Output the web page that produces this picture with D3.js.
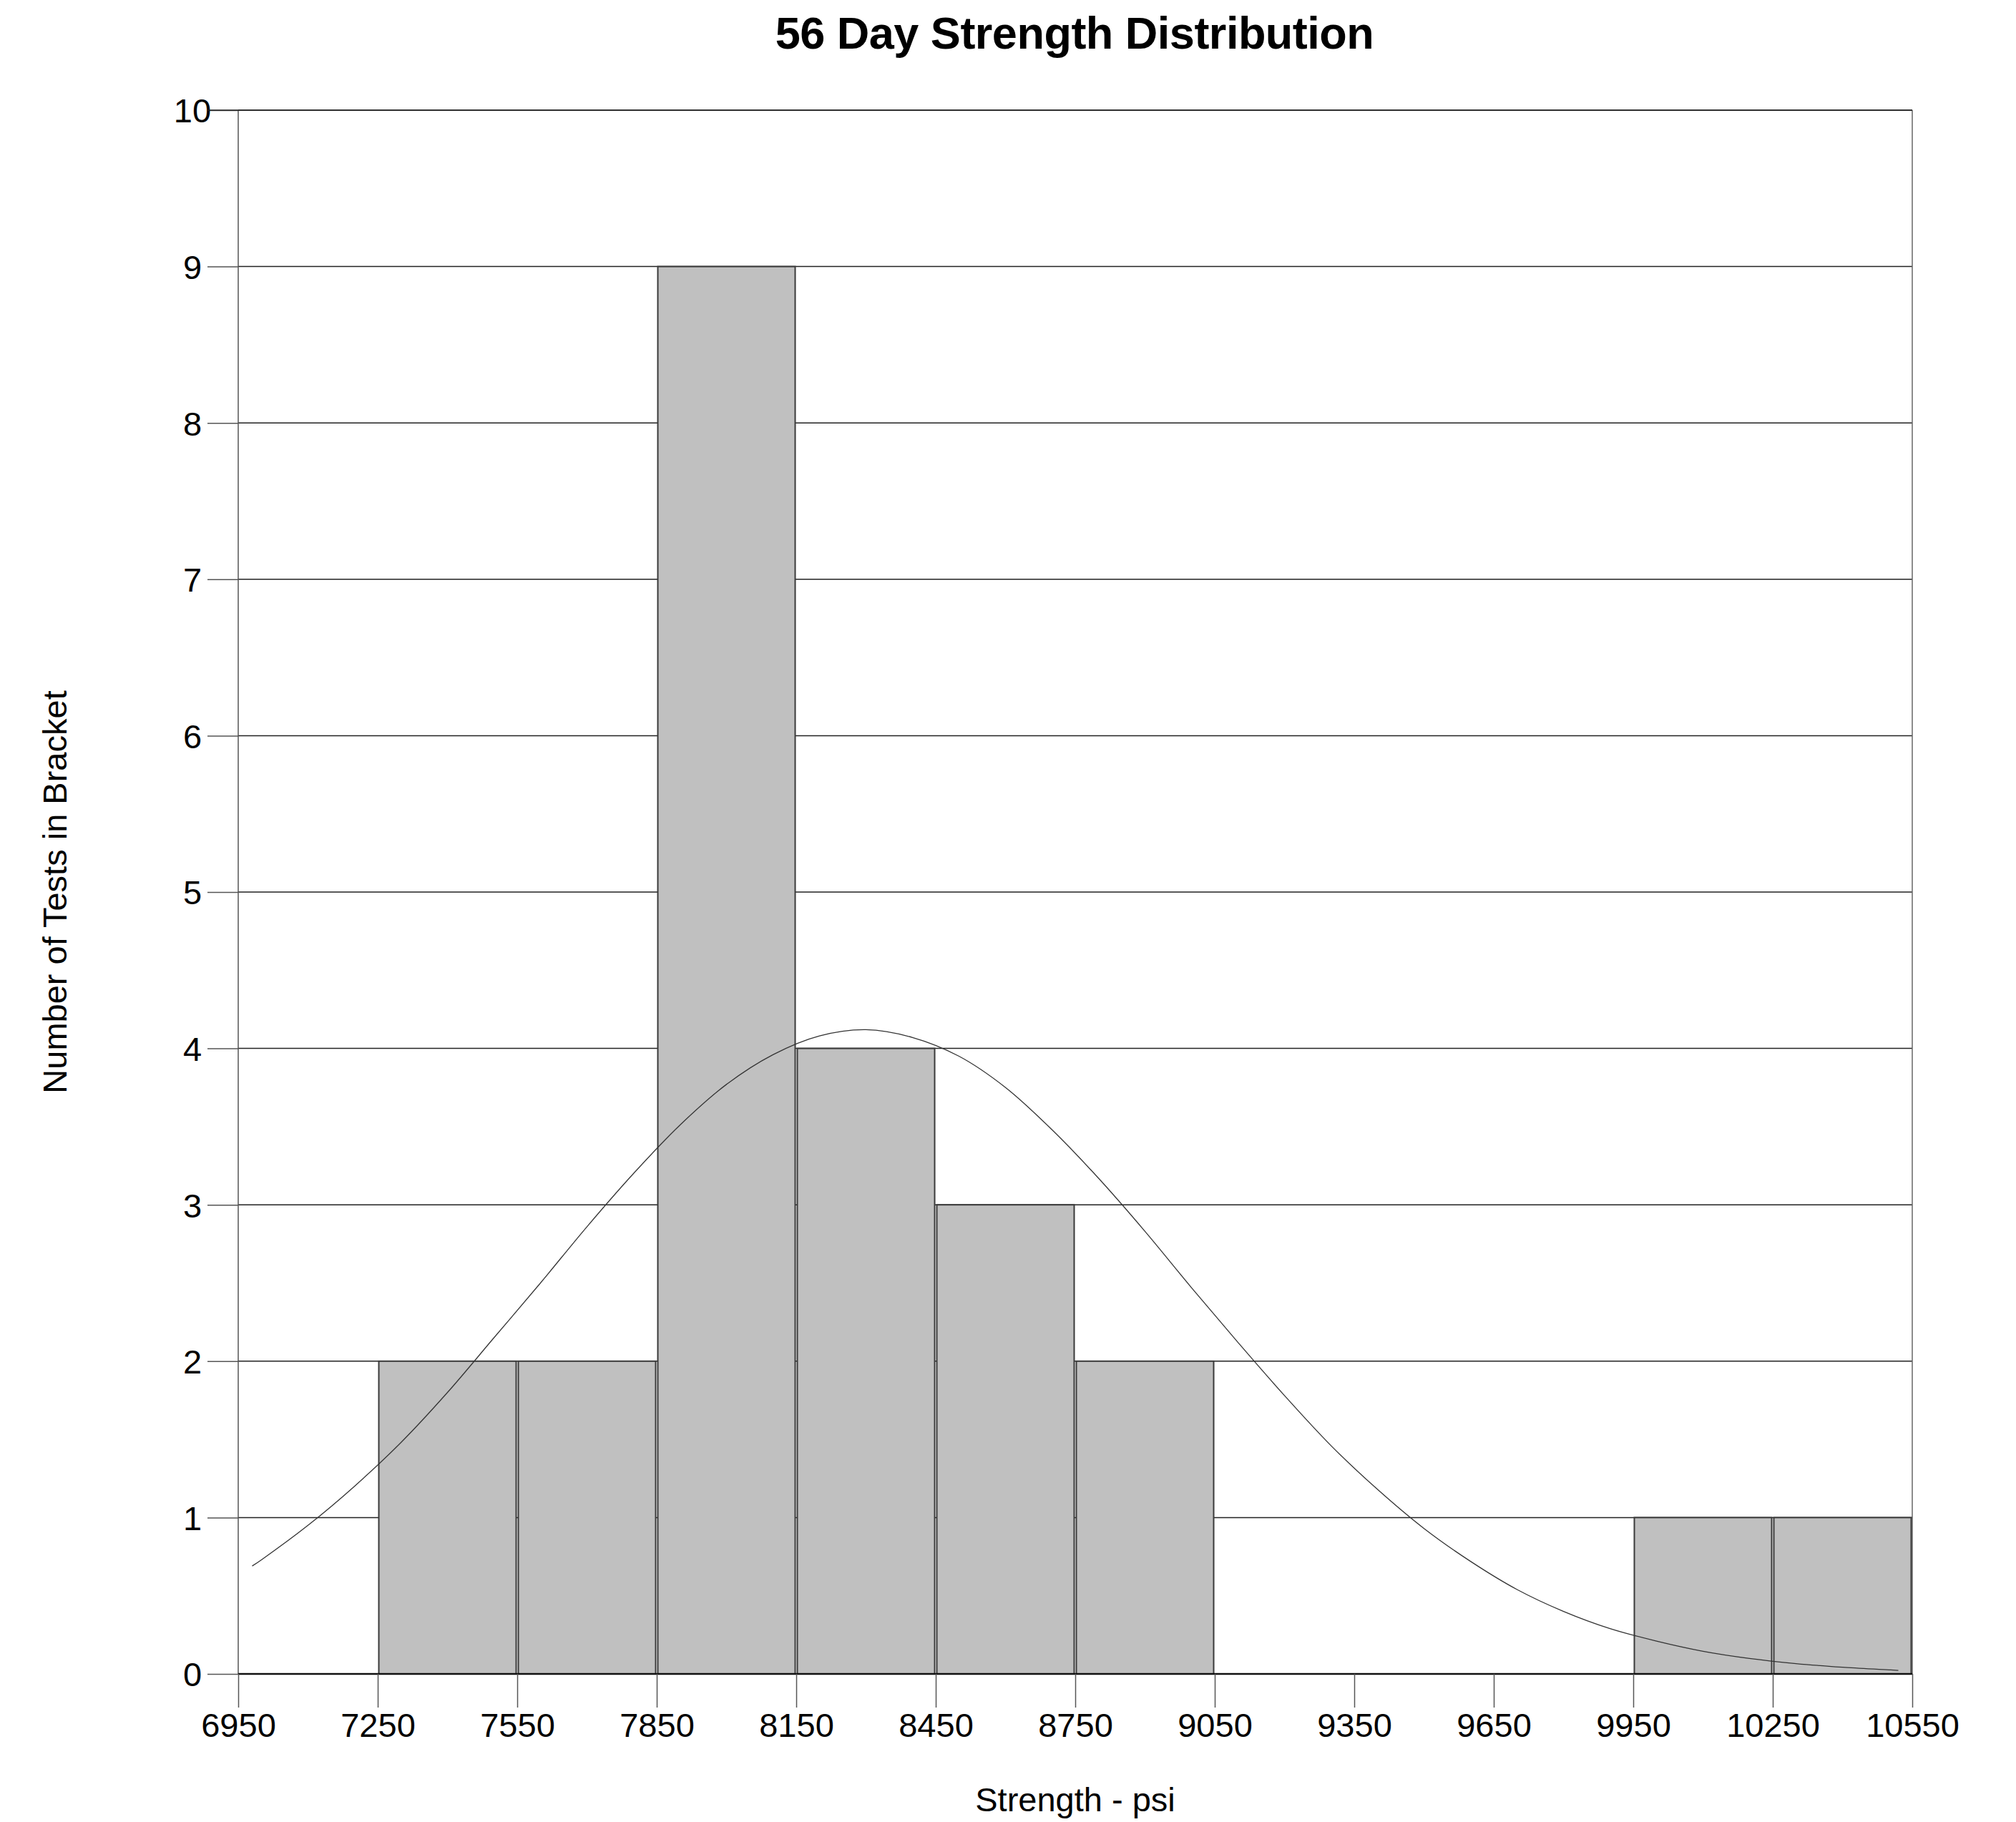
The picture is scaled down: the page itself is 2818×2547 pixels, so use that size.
<!DOCTYPE html>
<html>
<head>
<meta charset="utf-8">
<script src="https://cdn.jsdelivr.net/npm/d3@7"></script>
<style>
  html, body { margin: 0; padding: 0; background: #ffffff; }
  svg { display: block; }
  text { font-family: "Liberation Sans", Arial, sans-serif; fill: #000; }
</style>
</head>
<body>
<script>
// ---- data ----
const title = "56 Day Strength Distribution";
const xLabel = "Strength - psi";
const yLabel = "Number of Tests in Bracket";

const binLower = [7250, 7550, 7850, 8150, 8450, 8750, 9950, 10250];
const binUpper = [7550, 7850, 8150, 8450, 8750, 9050, 10250, 10550];
const binCounts = [2, 2, 9, 4, 3, 2, 1, 1];

const xTicks = [6950, 7250, 7550, 7850, 8150, 8450, 8750, 9050, 9350, 9650, 9950, 10250, 10550];
const yTicks = [0, 1, 2, 3, 4, 5, 6, 7, 8, 9, 10];

// fitted-curve points
const curveX = [6980, 7000, 7100, 7200, 7300, 7400, 7500, 7600, 7700, 7800, 7900, 8000, 8100, 8200, 8300,
                8400, 8500, 8600, 8700, 8800, 8900, 9000, 9100, 9200, 9300, 9400, 9500, 9600, 9700, 9800,
                9900, 10000, 10100, 10200, 10300, 10400, 10500, 10520];
const curveY = [0.69, 0.73, 0.95, 1.20, 1.48, 1.80, 2.15, 2.50, 2.86, 3.20, 3.51, 3.77, 3.96, 4.08, 4.12,
                4.07, 3.95, 3.75, 3.48, 3.17, 2.83, 2.47, 2.12, 1.78, 1.46, 1.18, 0.93, 0.72, 0.54, 0.40,
                0.29, 0.21, 0.145, 0.099, 0.066, 0.043, 0.026, 0.022];

// ---- layout ----
const W = 2818, H = 2547;
const plot = { left: 333, right: 2673, top: 154, bottom: 2340 };

const svg = d3.select("body").append("svg").attr("width", W).attr("height", H);

const x = d3.scaleLinear().domain([6950, 10550]).range([plot.left, plot.right]);
const y = d3.scaleLinear().domain([0, 10]).range([plot.bottom, plot.top]);

// gridlines
svg.append("g").selectAll("line").data(yTicks.filter(d => d > 0)).join("line")
  .attr("x1", plot.left).attr("x2", plot.right)
  .attr("y1", d => y(d)).attr("y2", d => y(d))
  .attr("stroke", "#222").attr("stroke-width", 1.5);

// frame left/right
svg.append("line").attr("x1", plot.left).attr("x2", plot.left).attr("y1", plot.top).attr("y2", plot.bottom)
  .attr("stroke", "#555").attr("stroke-width", 1.5);
svg.append("line").attr("x1", plot.right).attr("x2", plot.right).attr("y1", plot.top).attr("y2", plot.bottom)
  .attr("stroke", "#666").attr("stroke-width", 1.5);

// bars
const bins = binLower.map((lo, i) => ({ lo, hi: binUpper[i], n: binCounts[i] }));
svg.append("g").selectAll("rect").data(bins).join("rect")
  .attr("x", d => x(d.lo) + 1.5)
  .attr("width", d => x(d.hi) - x(d.lo) - 3)
  .attr("y", d => y(d.n))
  .attr("height", d => y(0) - y(d.n))
  .attr("fill", "#c0c0c0")
  .attr("stroke", "#3a3a3a")
  .attr("stroke-width", 2);

// baseline
svg.append("line").attr("x1", plot.left).attr("x2", plot.right).attr("y1", y(0)).attr("y2", y(0))
  .attr("stroke", "#111").attr("stroke-width", 2.5);

// x axis ticks
const xAxis = d3.axisBottom(x).tickValues(xTicks).tickFormat(d3.format("d")).tickSize(47).tickPadding(8);
const gx = svg.append("g").attr("transform", `translate(0,${plot.bottom})`).call(xAxis);
gx.select(".domain").remove();
gx.selectAll(".tick line").attr("stroke", "#555").attr("stroke-width", 1.5);
gx.selectAll(".tick text").attr("font-size", 47).attr("font-family", "Liberation Sans, Arial, sans-serif")
  .attr("fill", "#000");

// y axis ticks
const yAxis = d3.axisLeft(y).tickValues(yTicks).tickFormat(d3.format("d")).tickSize(43).tickPadding(0);
const gy = svg.append("g").attr("transform", `translate(${plot.left},0)`).call(yAxis);
gy.select(".domain").remove();
gy.selectAll(".tick line").attr("stroke", "#555").attr("stroke-width", 1.5);
gy.selectAll(".tick text").attr("font-size", 47).attr("font-family", "Liberation Sans, Arial, sans-serif")
  .attr("fill", "#000").attr("text-anchor", "middle").attr("x", -64).attr("dy", "0.36em");

// top frame line
svg.append("line").attr("x1", plot.left - 43).attr("x2", plot.right).attr("y1", plot.top).attr("y2", plot.top)
  .attr("stroke", "#222").attr("stroke-width", 1.5);

// curve
const line = d3.line().x((d, i) => x(curveX[i])).y(d => y(d)).curve(d3.curveCatmullRom);
svg.append("path").datum(curveY).attr("d", line)
  .attr("fill", "none").attr("stroke", "#333").attr("stroke-width", 1.3);

// title & labels
svg.append("text").attr("x", 1502).attr("y", 68).attr("text-anchor", "middle")
  .attr("font-size", 63).attr("font-weight", "bold").attr("letter-spacing", -0.5).text(title);

svg.append("text").attr("x", (plot.left + plot.right) / 2).attr("y", 2532).attr("text-anchor", "middle")
  .attr("font-size", 47).text(xLabel);

svg.append("text").attr("transform", `translate(93,${(plot.top + plot.bottom) / 2}) rotate(-90)`)
  .attr("text-anchor", "middle").attr("font-size", 47).text(yLabel);
</script>
</body>
</html>
